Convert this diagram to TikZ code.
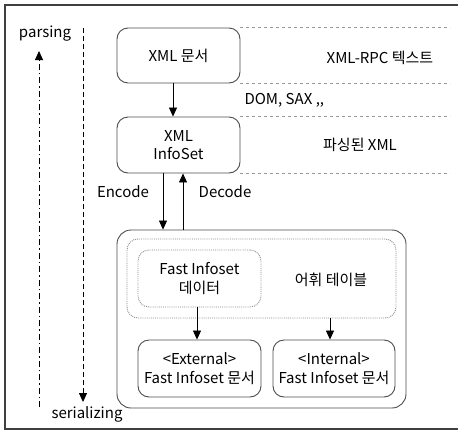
\documentclass[tikz,border=0pt]{standalone}
\usepackage{fontspec}
\setmainfont{Noto Sans CJK KR}
\usetikzlibrary{arrows.meta}

\begin{document}
\begin{tikzpicture}[x=1pt, y=-1pt,
    box/.style={draw=black!70, line width=0.9pt, rounded corners=11pt, align=center, inner sep=0pt},
    dotbox/.style={draw=black!45, densely dotted, line width=0.9pt, rounded corners=11pt, align=center, inner sep=0pt},
    guide/.style={draw=black!40, dashed, line width=0.6pt},
    freccia/.style={-{Triangle[length=9pt,width=8pt]}, line width=0.8pt},
    every node/.style={font=\fontsize{15}{18.5}\selectfont}]
      \useasboundingbox (0,0) rectangle (458,432);

      % Cornice
      \draw[black!75, line width=1.2pt] (462,5) -- (5,5) -- (5,429) -- (462,429);

      % Livello superiore
      \node (doc) at (178.5,55.5) [box, minimum width=123pt, minimum height=55pt] {XML 문서};
      \node (info) at (178.5,145) [box, minimum width=123pt, minimum height=56pt] {XML\\InfoSet};

      % Blocco Fast Infoset
      \node (fi) at (261.5,319) [box, rounded corners=14pt, minimum width=289pt, minimum height=178pt] {};
      \node (voc) at (261.5,278.5) [dotbox, minimum width=269pt, minimum height=79pt] {};
      \node (dati) at (199.5,278.5) [dotbox, minimum width=123pt, minimum height=57pt] {Fast Infoset\\데이터};
      \node (ext) at (199.5,368.5) [box, minimum width=123pt, minimum height=57pt] {<External>\\Fast Infoset 문서};
      \node (int) at (334,368.5) [box, minimum width=122pt, minimum height=57pt] {<Internal>\\Fast Infoset 문서};

      % Etichette
      \node (rpc) at (380,58) {XML-RPC 텍스트};
      \node (dom) at (241,100) [anchor=west] {DOM, SAX {,}{,}};
      \node (pars) at (360,145) {파싱된 XML};
      \node (enc) at (123,192) {Encode};
      \node (dec) at (225,192) {Decode};
      \node (tab) at (331,280) {어휘 테이블};
      \node (up) at (45,34) {parsing};
      \node (down) at (87,414) {serializing};

      % Linee guida
      \foreach \a in {doc.north east, doc.south east, info.north east, info.south east}
        \draw[guide] (\a) -- ++(210,0);

      % Frecce laterali
      \coordinate (pbase) at (39,407);
      \coordinate (ptop) at (39,51);
      \coordinate (sbase) at (83,28);
      \coordinate (stop) at (83,402);
      \draw[freccia, dash pattern=on 6pt off 3pt on 1.5pt off 3pt] (pbase) -- (ptop);
      \draw[freccia, dash pattern=on 5pt off 3pt] (sbase) -- (stop);

      % Collegamenti
      \draw[freccia] ([xshift=-5.5pt]doc.south) -- ([xshift=-5.5pt]info.north);
      \draw[freccia] ([xshift=-15.5pt]info.south) -- ([xshift=-15.5pt]info.south |- fi.north);
      \draw[freccia] ([xshift=4.5pt]info.south |- fi.north) -- ([xshift=4.5pt]info.south);
      \draw[freccia] ([xshift=-2.5pt]dati.south) -- ([xshift=-2.5pt]ext.north);
      \draw[freccia] ([xshift=-4pt]int.north |- voc.south) -- ([xshift=-4pt]int.north);
    \end{tikzpicture}
\end{document}
